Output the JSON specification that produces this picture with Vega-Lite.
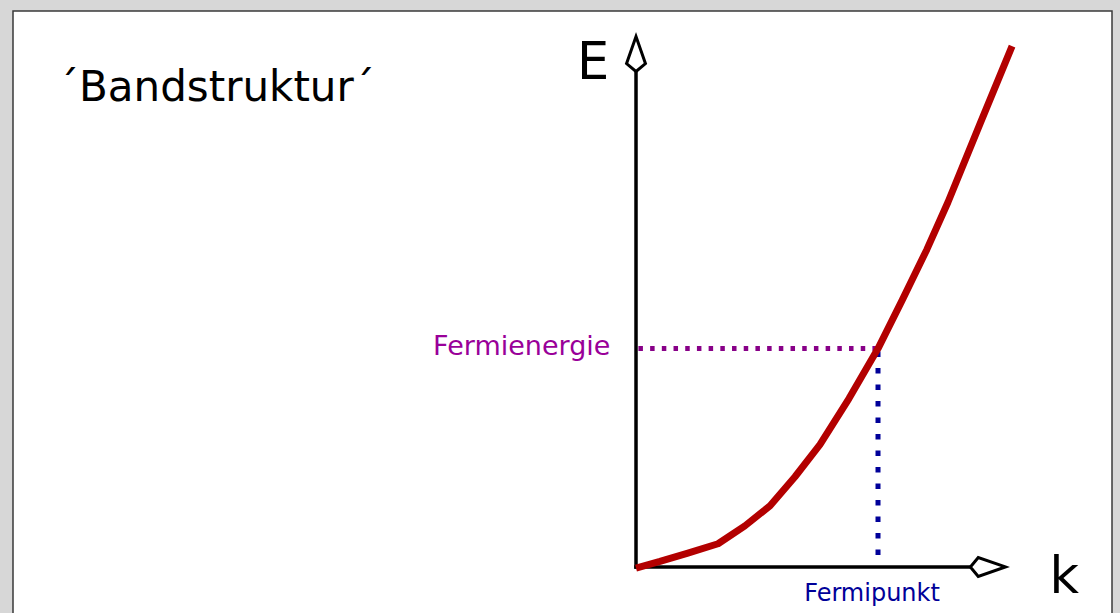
{
  "$schema": "https://vega.github.io/schema/vega-lite/v6.json",
  "width": 1099,
  "height": 603,
  "autosize": "none",
  "padding": {"left": 13, "top": 11, "right": 8, "bottom": -1},
  "background": "#d7d7d7",
  "config": {
    "view": {"fill": "white", "stroke": "#3a3a3a", "strokeWidth": 1.5},
    "font": "DejaVu Sans"
  },
  "title": {
    "text": "´Bandstruktur´",
    "anchor": "start",
    "frame": "group",
    "orient": "top",
    "offset": 0,
    "dx": 45,
    "dy": 131.5,
    "baseline": "alphabetic",
    "font": "DejaVu Sans",
    "fontSize": 42,
    "fontWeight": "normal",
    "color": "black"
  },
  "datasets": {
    "band": [
      {"k": 0, "E": -0.005},
      {"k": 0.099, "E": 0.025},
      {"k": 0.211, "E": 0.062},
      {"k": 0.339, "E": 0.106},
      {"k": 0.450, "E": 0.188},
      {"k": 0.554, "E": 0.280},
      {"k": 0.657, "E": 0.413},
      {"k": 0.760, "E": 0.560},
      {"k": 0.880, "E": 0.771},
      {"k": 1.000, "E": 1.000},
      {"k": 1.100, "E": 1.222},
      {"k": 1.202, "E": 1.454},
      {"k": 1.289, "E": 1.670},
      {"k": 1.421, "E": 2.028},
      {"k": 1.554, "E": 2.385}
    ],
    "fermienergie": [{"k0": 0.01, "k1": 1.0, "E": 1.0, "label": "Fermienergie"}],
    "fermipunkt": [{"k": 1.0, "E0": 0.986, "E1": 0.0, "label": "Fermipunkt"}],
    "k_axis": [{"k0": 0, "k1": 1.454, "E": 0, "label": "k"}],
    "E_axis": [{"k": 0, "E0": 0, "E1": 2.349, "label": "E"}]
  },
  "layer": [
    {
      "data": {"name": "fermienergie"},
      "mark": {"type": "rule", "color": "#880088", "strokeWidth": 5, "strokeDash": [4.5, 7.2]},
      "encoding": {
        "x": {"field": "k0", "type": "quantitative", "scale": {"domain": [-2.5744, 1.9669], "nice": false, "zero": false}, "axis": null},
        "x2": {"field": "k1"},
        "y": {"field": "E", "type": "quantitative", "scale": {"domain": [-0.2156, 2.5459], "nice": false, "zero": false}, "axis": null}
      }
    },
    {
      "data": {"name": "fermipunkt"},
      "mark": {"type": "rule", "color": "#000099", "strokeWidth": 5, "strokeDash": [5.5, 11]},
      "encoding": {
        "x": {"field": "k", "type": "quantitative", "scale": {"domain": [-2.5744, 1.9669], "nice": false, "zero": false}, "axis": null},
        "y": {"field": "E0", "type": "quantitative", "scale": {"domain": [-0.2156, 2.5459], "nice": false, "zero": false}, "axis": null},
        "y2": {"field": "E1"}
      }
    },
    {
      "data": {"name": "k_axis"},
      "mark": {"type": "rule", "color": "black", "strokeWidth": 3.5, "strokeCap": "square"},
      "encoding": {
        "x": {"field": "k0", "type": "quantitative", "scale": {"domain": [-2.5744, 1.9669], "nice": false, "zero": false}, "axis": null},
        "x2": {"field": "k1"},
        "y": {"field": "E", "type": "quantitative", "scale": {"domain": [-0.2156, 2.5459], "nice": false, "zero": false}, "axis": null}
      }
    },
    {
      "data": {"name": "E_axis"},
      "mark": {"type": "rule", "color": "black", "strokeWidth": 3.5, "strokeCap": "square"},
      "encoding": {
        "x": {"field": "k", "type": "quantitative", "scale": {"domain": [-2.5744, 1.9669], "nice": false, "zero": false}, "axis": null},
        "y": {"field": "E0", "type": "quantitative", "scale": {"domain": [-0.2156, 2.5459], "nice": false, "zero": false}, "axis": null},
        "y2": {"field": "E1"}
      }
    },
    {
      "data": {"name": "k_axis"},
      "mark": {"type": "point", "shape": "M1,0L-0.55,-0.54L-1,0L-0.55,0.54Z", "size": 1225, "filled": true, "fill": "white", "stroke": "black", "strokeWidth": 3, "opacity": 1},
      "encoding": {
        "x": {"field": "k1", "type": "quantitative", "scale": {"domain": [-2.5744, 1.9669], "nice": false, "zero": false}, "axis": null},
        "y": {"field": "E", "type": "quantitative", "scale": {"domain": [-0.2156, 2.5459], "nice": false, "zero": false}, "axis": null}
      }
    },
    {
      "data": {"name": "E_axis"},
      "mark": {"type": "point", "shape": "M0,-1L0.54,0.55L0,1L-0.54,0.55Z", "size": 1225, "filled": true, "fill": "white", "stroke": "black", "strokeWidth": 3, "opacity": 1},
      "encoding": {
        "x": {"field": "k", "type": "quantitative", "scale": {"domain": [-2.5744, 1.9669], "nice": false, "zero": false}, "axis": null},
        "y": {"field": "E1", "type": "quantitative", "scale": {"domain": [-0.2156, 2.5459], "nice": false, "zero": false}, "axis": null}
      }
    },
    {
      "data": {"name": "band"},
      "mark": {"type": "line", "color": "#b30000", "strokeWidth": 7, "strokeJoin": "round"},
      "encoding": {
        "x": {"field": "k", "type": "quantitative", "scale": {"domain": [-2.5744, 1.9669], "nice": false, "zero": false}, "axis": null},
        "y": {"field": "E", "type": "quantitative", "scale": {"domain": [-0.2156, 2.5459], "nice": false, "zero": false}, "axis": null}
      }
    },
    {
      "data": {"name": "fermienergie"},
      "mark": {"type": "text", "font": "DejaVu Sans", "fontSize": 27, "color": "#990099", "align": "right", "baseline": "alphabetic", "dx": -28, "dy": 6.5},
      "encoding": {
        "x": {"field": "k0", "type": "quantitative", "scale": {"domain": [-2.5744, 1.9669], "nice": false, "zero": false}, "axis": null},
        "y": {"field": "E", "type": "quantitative", "scale": {"domain": [-0.2156, 2.5459], "nice": false, "zero": false}, "axis": null},
        "text": {"field": "label"}
      }
    },
    {
      "data": {"name": "fermipunkt"},
      "mark": {"type": "text", "font": "DejaVu Sans", "fontSize": 24, "color": "#000099", "align": "center", "baseline": "alphabetic", "dx": -6, "dy": 34},
      "encoding": {
        "x": {"field": "k", "type": "quantitative", "scale": {"domain": [-2.5744, 1.9669], "nice": false, "zero": false}, "axis": null},
        "y": {"field": "E1", "type": "quantitative", "scale": {"domain": [-0.2156, 2.5459], "nice": false, "zero": false}, "axis": null},
        "text": {"field": "label"}
      }
    },
    {
      "data": {"name": "k_axis"},
      "mark": {"type": "text", "font": "DejaVu Sans", "fontSize": 51, "color": "black", "align": "left", "baseline": "alphabetic", "dx": 61.5, "dy": 26},
      "encoding": {
        "x": {"field": "k1", "type": "quantitative", "scale": {"domain": [-2.5744, 1.9669], "nice": false, "zero": false}, "axis": null},
        "y": {"field": "E", "type": "quantitative", "scale": {"domain": [-0.2156, 2.5459], "nice": false, "zero": false}, "axis": null},
        "text": {"field": "label"}
      }
    },
    {
      "data": {"name": "E_axis"},
      "mark": {"type": "text", "font": "DejaVu Sans", "fontSize": 51, "color": "black", "align": "left", "baseline": "alphabetic", "dx": -59, "dy": 25},
      "encoding": {
        "x": {"field": "k", "type": "quantitative", "scale": {"domain": [-2.5744, 1.9669], "nice": false, "zero": false}, "axis": null},
        "y": {"field": "E1", "type": "quantitative", "scale": {"domain": [-0.2156, 2.5459], "nice": false, "zero": false}, "axis": null},
        "text": {"field": "label"}
      }
    }
  ]
}
